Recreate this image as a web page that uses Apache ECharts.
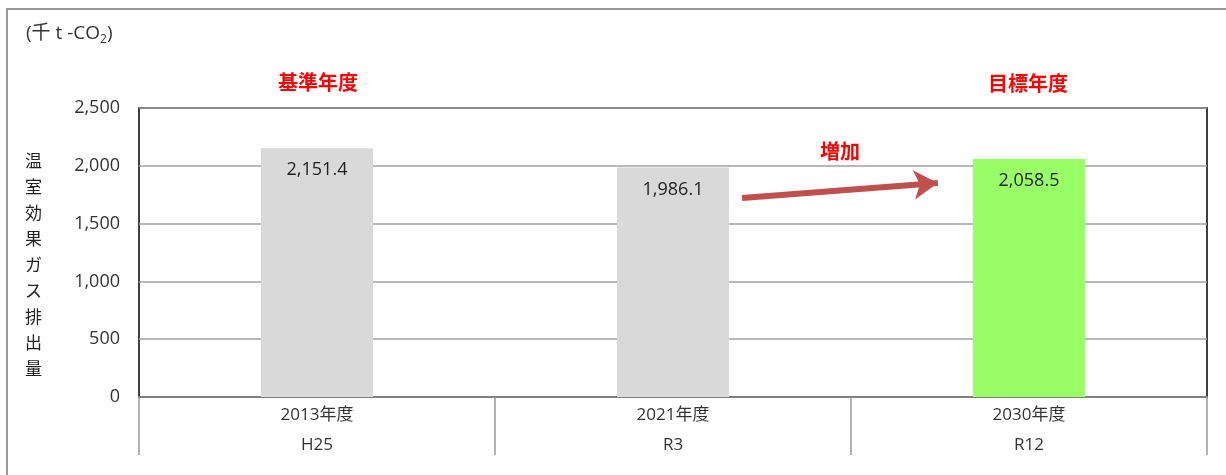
<!DOCTYPE html>
<html>
<head>
<meta charset="utf-8">
<title>温室効果ガス排出量</title>
<script src="https://cdn.jsdelivr.net/npm/echarts@6/dist/echarts.min.js"></script>
<style>
  html, body { margin: 0; padding: 0; background: #fff; }
  #chart { width: 1226px; height: 475px; }
</style>
</head>
<body>
<div id="chart"></div>
<script>
// data
const years = ['2013年度', '2021年度', '2030年度']
const eras = ['H25', 'R3', 'R12']
const emissions = [2151.4, 1986.1, 2058.5]
const barColors = ['#D9D9D9', '#D9D9D9', '#99FF66']
const yTicks = [0, 500, 1000, 1500, 2000, 2500]
// 増加 arrow, [x on 0..3 scale, value]
const arrowFrom = [1.694, 1721]
const arrowTo = [2.244, 1851]

const font = '"Open Sans", "Noto Sans CJK JP", sans-serif'
const cjk = '"Noto Sans CJK JP", sans-serif'
const fmt = v => v.toLocaleString('en-US', { minimumFractionDigits: 0, maximumFractionDigits: 1 })

const chart = echarts.init(document.getElementById('chart'))

chart.setOption({
  animation: false,
  textStyle: { fontFamily: font },
  grid: {
    left: 139,
    right: 19,
    top: 108,
    bottom: 78,
    show: true,
    borderColor: '#000',
    borderWidth: 1.5,
    backgroundColor: 'transparent'
  },
  xAxis: [
    {
      type: 'category',
      data: years.map((y, i) => y + '\n' + eras[i]),
      axisLine: { lineStyle: { color: '#7f7f7f', width: 2 } },
      axisTick: { show: true, length: 58, lineStyle: { color: '#999', width: 1.5 } },
      axisLabel: {
        color: '#333',
        fontFamily: font,
        fontSize: 17,
        lineHeight: 30,
        margin: 3
      }
    },
    {
      type: 'value',
      min: 0,
      max: 3,
      show: false
    }
  ],
  yAxis: {
    type: 'value',
    min: 0,
    max: 2500,
    interval: 500,
    axisLine: { show: false },
    axisTick: { show: false },
    splitLine: { lineStyle: { color: '#a0a0a0', width: 1.5 } },
    axisLabel: {
      color: '#333',
      fontFamily: font,
      fontSize: 18,
      margin: 19,
      formatter: v => yTicks.includes(v) ? fmt(v) : ''
    }
  },
  series: [
    {
      type: 'bar',
      xAxisIndex: 0,
      barWidth: 112,
      data: emissions.map((v, i) => ({ value: v, itemStyle: { color: barColors[i] } })),
      label: {
        show: true,
        position: 'insideTop',
        distance: 13,
        color: '#222',
        fontFamily: font,
        fontSize: 18,
        formatter: p => p.value.toLocaleString('en-US', { minimumFractionDigits: 1 })
      }
    },
    {
      type: 'line',
      xAxisIndex: 1,
      data: [],
      markLine: {
        silent: true,
        symbol: ['none', 'arrow'],
        symbolSize: [22, 24],
        label: { show: false },
        lineStyle: { color: '#C0504D', width: 6, type: 'solid' },
        data: [[{ coord: arrowFrom }, { coord: arrowTo }]]
      }
    }
  ],
  graphic: [
    {
      type: 'rect',
      shape: { x: 7, y: 9, width: 1260, height: 520 },
      style: { fill: 'none', stroke: '#999', lineWidth: 2 },
      silent: true
    },
    {
      type: 'text',
      left: 26,
      top: 24,
      style: {
        text: '(千 t -CO{s|2})',
        fill: '#333',
        font: '19px ' + font,
        rich: { s: { fontSize: 12, padding: [12, 0, 0, 0], fill: '#333', fontFamily: font } }
      }
    },
    {
      type: 'text',
      left: 25,
      top: 148,
      style: {
        text: '温\n室\n効\n果\nガ\nス\n排\n出\n量',
        fill: '#222',
        font: '17px ' + cjk,
        lineHeight: 26
      }
    },
    {
      type: 'text',
      x: 318,
      y: 82,
      style: { text: '基準年度', fill: '#FF0000', font: 'bold 20px ' + cjk, align: 'center', verticalAlign: 'middle' }
    },
    {
      type: 'text',
      x: 1028,
      y: 83,
      style: { text: '目標年度', fill: '#FF0000', font: 'bold 20px ' + cjk, align: 'center', verticalAlign: 'middle' }
    },
    {
      type: 'text',
      x: 840,
      y: 151,
      style: { text: '増加', fill: '#FF0000', font: 'bold 20px ' + cjk, align: 'center', verticalAlign: 'middle' }
    }
  ]
})
</script>
</body>
</html>
